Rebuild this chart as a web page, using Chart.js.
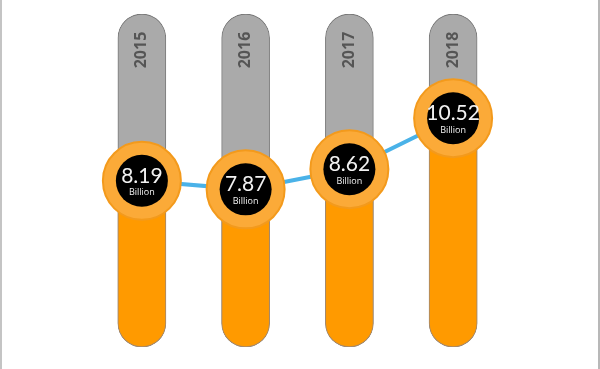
<!DOCTYPE html>
<html>
<head>
<meta charset="utf-8">
<style>
  html, body { margin: 0; padding: 0; background: #fff; }
  #wrap { position: relative; width: 600px; height: 369px; box-sizing: border-box;
          border-left: 2px solid #c4c4c4; border-right: 2px solid #b8b8b8; }
  canvas { position: absolute; left: -2px; top: 0; }
</style>
<script src="https://cdn.jsdelivr.net/npm/chart.js@4"></script>
</head>
<body>
<div id="wrap"><canvas id="chart" width="600" height="369"></canvas></div>
<script>
const years = ['2015', '2016', '2017', '2018'];
const values = [8.19, 7.87, 8.62, 10.52];
const unit = 'Billion';

// the gray track runs the whole height of the value axis
const trackMin = 2;
const trackMax = 14.4;

const labelPlugin = {
  id: 'labels',
  afterDatasetsDraw(chart) {
    const ctx = chart.ctx;
    const x = chart.scales.x;
    const y = chart.scales.y;
    ctx.save();
    years.forEach((yr, i) => {
      const px = x.getPixelForValue(i);
      // year text, rotated, inside the top of the track
      ctx.save();
      ctx.translate(px, 50);
      ctx.rotate(-Math.PI / 2);
      ctx.fillStyle = '#555';
      ctx.font = 'bold 16px "Open Sans", sans-serif';
      ctx.textAlign = 'center';
      ctx.textBaseline = 'middle';
      ctx.fillText(yr, 0, 0);
      ctx.restore();

      const py = y.getPixelForValue(values[i]);
      ctx.fillStyle = '#f2f2f2';
      ctx.textAlign = 'center';
      ctx.textBaseline = 'middle';
      ctx.font = '21px Lato, sans-serif';
      ctx.fillText(values[i].toFixed(2), px, py - 5);
      ctx.font = '9px "Open Sans", sans-serif';
      ctx.fillText(unit, px, py + 12);
    });
    ctx.restore();
  }
};

new Chart(document.getElementById('chart'), {
  type: 'bar',
  data: {
    labels: years,
    datasets: [
      {
        type: 'line',
        data: values,
        showLine: false,
        pointRadius: 26,
        pointBackgroundColor: '#000',
        pointBorderWidth: 0,
        order: 0
      },
      {
        type: 'line',
        data: values,
        borderColor: '#4ab2e8',
        borderWidth: 4,
        pointRadius: 39,
        pointBackgroundColor: '#fbaa38',
        pointBorderColor: '#f39a1c',
        pointBorderWidth: 2,
        order: 1
      },
      {
        data: values.map(v => [trackMin, v]),
        backgroundColor: '#ff9a00',
        borderColor: '#a88a6a',
        borderWidth: 1,
        borderSkipped: false,
        borderRadius: { topLeft: 0, topRight: 0, bottomLeft: 24, bottomRight: 24 },
        barThickness: 48,
        grouped: false,
        order: 2
      },
      {
        data: values.map(() => [trackMin, trackMax]),
        backgroundColor: '#aaaaaa',
        borderColor: '#7a7a7a',
        borderWidth: 1,
        borderSkipped: false,
        borderRadius: 24,
        barThickness: 48,
        grouped: false,
        order: 3
      }
    ]
  },
  options: {
    responsive: false,
    animation: false,
    layout: { autoPadding: false, padding: { left: 90, right: 95, top: 14, bottom: 22 } },
    plugins: { legend: { display: false }, tooltip: { enabled: false } },
    scales: {
      x: { display: false, offset: true },
      y: { display: false, min: trackMin, max: trackMax }
    }
  },
  plugins: [labelPlugin]
});
</script>
</body>
</html>
